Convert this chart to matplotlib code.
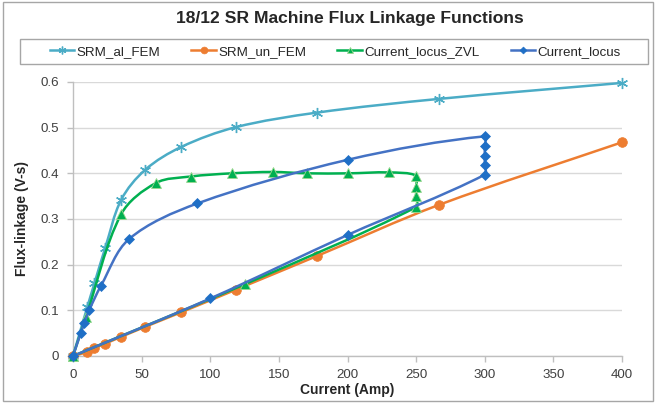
import numpy as np
import matplotlib
matplotlib.use("Agg")
import matplotlib.pyplot as plt
from matplotlib.path import Path
from matplotlib.patches import PathPatch, Rectangle
from matplotlib.lines import Line2D

plt.rcParams['font.family'] = ['Liberation Sans', 'DejaVu Sans']

# ---- data ----
al_x = [0, 10.4, 15.6, 23.4, 35.1, 52.7, 79, 118.5, 177.8, 266.7, 400]
al_y = [0, 0.107, 0.159, 0.236, 0.342, 0.408, 0.458, 0.501, 0.533, 0.563, 0.598]

un_x = [0, 10.4, 15.6, 23.4, 35.1, 52.7, 79, 118.5, 177.8, 266.7, 400]
un_y = [0, 0.009, 0.017, 0.027, 0.042, 0.064, 0.096, 0.145, 0.219, 0.331, 0.468]

zvl_x = [0, 9.5, 35, 60.5, 85.7, 115.6, 145.4, 170.8, 200.6, 230, 250, 250, 250, 250, 125, 0]
zvl_y = [0, 0.086, 0.310, 0.379, 0.393, 0.400, 0.403, 0.400, 0.400, 0.402, 0.395, 0.371, 0.350, 0.326, 0.157, 0]

loc_x = [0, 5.6, 8.3, 11.9, 20.4, 40.8, 90.6, 200.6, 300, 300, 300, 300, 300, 200, 100, 0]
loc_y = [0, 0.050, 0.073, 0.101, 0.154, 0.256, 0.334, 0.430, 0.481, 0.459, 0.438, 0.419, 0.397, 0.265, 0.126, 0]

x_ticks = [0, 50, 100, 150, 200, 250, 300, 350, 400]
y_ticks = [0, 0.1, 0.2, 0.3, 0.4, 0.5, 0.6]
y_tick_labels = ['0', '0.1', '0.2', '0.3', '0.4', '0.5', '0.6']

W, H = 657, 405
fig = plt.figure(figsize=(W / 100, H / 100), dpi=100)
fig.patch.set_facecolor('white')
fig.patches.append(Rectangle((3 / W, 1 - 401 / H), 650 / W, 399 / H, transform=fig.transFigure,
                             fill=False, edgecolor='#a6a6a6', linewidth=1.0))

ax = fig.add_axes([73 / W, 1 - 356 / H, 549 / W, 274 / H])
ax.set_xlim(0, 400)
ax.set_ylim(0, 0.6)


def smooth_path(xs, ys):
    """Smoothed line through the data points (cubic Bezier, chord-weighted tangents)."""
    pts = np.column_stack([xs, ys]).astype(float)
    pix = ax.transData.transform(pts)
    n = len(pts)
    verts = [pts[0]]
    codes = [Path.MOVETO]

    def tangent(i, toward_next):
        # tangent at point i scaled by the adjacent segment length
        p_prev = pts[i - 1] if i > 0 else pts[i]
        p_next = pts[i + 1] if i + 1 < n else pts[i]
        d_prev = np.linalg.norm(pix[i] - pix[i - 1]) if i > 0 else 0.0
        d_next = np.linalg.norm(pix[i + 1] - pix[i]) if i + 1 < n else 0.0
        tot = d_prev + d_next
        if tot == 0:
            return np.zeros(2)
        w = (d_next if toward_next else d_prev) / tot
        return (p_next - p_prev) * w / 3.0

    for i in range(n - 1):
        p1 = pts[i]
        p2 = pts[i + 1]
        c1 = p1 + tangent(i, True)
        c2 = p2 - tangent(i + 1, False)
        verts += [c1, c2, p2]
        codes += [Path.CURVE4] * 3
    return Path(verts, codes)


ax.set_xticks(x_ticks)
ax.set_xticklabels([str(v) for v in x_ticks])
ax.set_yticks(y_ticks)
ax.set_yticklabels(y_tick_labels)
ax.grid(axis='y', color='#d9d9d9', linewidth=1.0)
ax.set_axisbelow(True)
for s in ['top', 'right']:
    ax.spines[s].set_visible(False)
for s in ['left', 'bottom']:
    ax.spines[s].set_color('#bfbfbf')
    ax.spines[s].set_linewidth(1.0)
ax.tick_params(axis='both', colors='#bfbfbf', labelcolor='#404040', labelsize=9.6, length=4, width=1)
ax.tick_params(axis='x', pad=5)
ax.tick_params(axis='y', pad=6)

series = [
    (al_x, al_y, '#4bacc6', dict(marker=(6, 2, 0), ms=8, mec='#4bacc6', mfc='#4bacc6', mew=1.0), 'SRM_al_FEM'),
    (un_x, un_y, '#ed7d31', dict(marker='o', ms=7, mec='#ed7d31', mfc='#ed7d31', mew=0.5), 'SRM_un_FEM'),
    (zvl_x, zvl_y, '#00b050', dict(marker='^', ms=6.5, mec='#9bd88f', mfc='#00b050', mew=0.6), 'Current_locus_ZVL'),
    (loc_x, loc_y, '#4472c4', dict(marker='D', ms=5, mec='#1f6fc6', mfc='#1f6fc6', mew=0.5), 'Current_locus'),
]

handles = []
for k, (xs, ys, col, mk, name) in enumerate(series):
    patch = PathPatch(smooth_path(xs, ys), facecolor='none', edgecolor=col, linewidth=1.8,
                      zorder=3 + k, capstyle='round', joinstyle='round')
    ax.add_patch(patch)
    ax.plot(xs, ys, linestyle='none', zorder=3.5 + k, clip_on=False, **mk)
    hmk = dict(mk)
    hmk['ms'] = mk['ms'] * 0.7
    handles.append(Line2D([], [], color=col, linewidth=1.8, **hmk))

ax.set_xlabel('Current (Amp)', fontsize=10, fontweight='bold', color='#262626', labelpad=2)
ax.set_ylabel('Flux-linkage (V-s)', fontsize=10, fontweight='bold', color='#262626', labelpad=8)

fig.text(350 / W, 1 - 18 / H, '18/12 SR Machine Flux Linkage Functions', ha='center', va='center',
         fontsize=12.6, fontweight='bold', color='#262626')

# legend box
fig.patches.append(Rectangle((20 / W, 1 - 64 / H), 628 / W, 25 / H, transform=fig.transFigure,
                             fill=False, edgecolor='#a6a6a6', linewidth=1.0))
leg = fig.legend(handles=handles, labels=[s[4] for s in series], ncol=4,
                 loc='center', bbox_to_anchor=(335 / W, 1 - 51.5 / H), fontsize=9.6,
                 frameon=False, handlelength=1.85, handletextpad=0.15, columnspacing=2.35,
                 borderpad=0.2)
for t in leg.get_texts():
    t.set_color('#262626')

fig.savefig('out.png', dpi=100)
